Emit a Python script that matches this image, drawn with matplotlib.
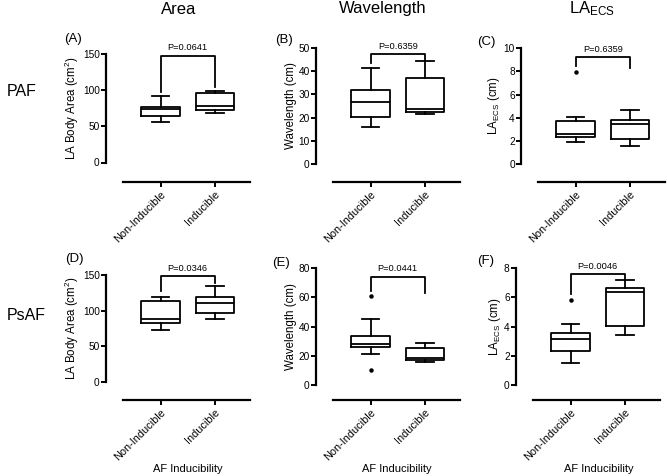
import matplotlib
matplotlib.use("Agg")
from matplotlib import pyplot as plt

plt.rcParams['font.family'] = ['Liberation Sans', 'DejaVu Sans']
plt.rcParams['mathtext.default'] = 'regular'

# box stats: [whisker low, Q1, median, Q3, whisker high]
groups = ["Non-Inducible", "Inducible"]

area_paf_non = [55.8, 64.1, 73.4, 77.0, 91.8]
area_paf_ind = [68.3, 72.4, 78.0, 96.4, 99.2]
wave_paf_non = [16.0, 20.1, 26.8, 31.7, 41.3]
wave_paf_ind = [21.6, 22.4, 23.6, 37.0, 44.3]
laecs_paf_non = [1.93, 2.31, 2.59, 3.72, 4.09]
laecs_paf_ind = [1.58, 2.13, 3.46, 3.80, 4.67]
area_psaf_non = [72.7, 82.1, 88.6, 113.4, 119.0]
area_psaf_ind = [88.6, 96.2, 111.0, 119.0, 134.6]
wave_psaf_non = [21.3, 26.0, 27.9, 33.6, 45.0]
wave_psaf_ind = [16.0, 16.9, 18.5, 25.2, 28.6]
laecs_psaf_non = [1.53, 2.33, 3.18, 3.59, 4.16]
laecs_psaf_ind = [3.43, 4.05, 6.38, 6.65, 7.22]

# outliers
laecs_paf_non_out = [7.95]
wave_psaf_non_out = [60.8, 10.3]
laecs_psaf_non_out = [5.85]

# p values and bracket (height, left leg end, right leg end)
p_values = ["P=0.0641", "P=0.6359", "P=0.6359", "P=0.0346", "P=0.0441", "P=0.0046"]
brackets = [(147.6, 97.8, 104.7), (47.2, 43.4, 44.6), (9.22, 8.47, 8.27),
            (148.6, 127.5, 139.0), (74.3, 64.5, 63.3), (7.59, 6.26, 7.25)]

y_maxes = [150, 50, 10, 150, 80, 8]
y_steps = [50, 10, 2, 50, 20, 2]
y_labels = ["LA Body Area (cm$^2$)", "Wavelength (cm)", "LA$_{ECS}$ (cm)",
            "LA Body Area (cm$^2$)", "Wavelength (cm)", "LA$_{ECS}$ (cm)"]
letters = ["(A)", "(B)", "(C)", "(D)", "(E)", "(F)"]

panels = [
    (area_paf_non, [], area_paf_ind, []),
    (wave_paf_non, [], wave_paf_ind, []),
    (laecs_paf_non, laecs_paf_non_out, laecs_paf_ind, []),
    (area_psaf_non, [], area_psaf_ind, []),
    (wave_psaf_non, wave_psaf_non_out, wave_psaf_ind, []),
    (laecs_psaf_non, laecs_psaf_non_out, laecs_psaf_ind, []),
]

W, H, DPI = 667, 476, 100
fig = plt.figure(figsize=(W / DPI, H / DPI), dpi=DPI)

# pixel layout: spine x, y of zero, y of top, y of x-axis line
layout = [(106, 162.5, 54, 181.5), (316, 164.3, 47.7, 181.5), (521, 164, 48.3, 181.5),
          (106, 381.7, 275, 400), (316, 385, 268.3, 400), (516, 385, 268.3, 400)]
letter_pos = [(73, 39), (284, 40), (486, 42), (74, 259), (281, 263), (486, 261)]
unit = 54.5
xmax = 2.65

for i, (sx, y0, yt, xa) in enumerate(layout):
    ax = fig.add_axes([sx / W, 1 - y0 / H, xmax * unit / W, (y0 - yt) / H])
    non, non_out, ind, ind_out = panels[i]
    stats = []
    for s, out in ((non, non_out), (ind, ind_out)):
        stats.append(dict(whislo=s[0], q1=s[1], med=s[2], q3=s[3], whishi=s[4], fliers=out))
    ax.bxp(stats, positions=[1, 2], widths=0.7, capwidths=0.32, showfliers=True,
           manage_ticks=False,
           boxprops=dict(color='black', lw=1.3),
           medianprops=dict(color='black', lw=1.3),
           whiskerprops=dict(color='black', lw=1.3),
           capprops=dict(color='black', lw=1.3),
           flierprops=dict(marker='o', markerfacecolor='black', markeredgecolor='black',
                           markersize=2.2))
    ax.set_xlim(0, xmax)
    ax.set_ylim(0, y_maxes[i])
    ax.set_yticks(range(0, y_maxes[i] + 1, y_steps[i]))
    ax.set_xticks([1, 2])
    ax.set_xticklabels(groups)
    ax.spines['top'].set_visible(False)
    ax.spines['right'].set_visible(False)
    ax.spines['left'].set_linewidth(1.6)
    ax.spines['bottom'].set_linewidth(1.6)
    ax.spines['left'].set_bounds(0, y_maxes[i])
    ax.spines['bottom'].set_position(('outward', (xa - y0) * 72 / DPI))
    ax.spines['bottom'].set_bounds(0.31, xmax)
    ax.tick_params(width=1.4, length=3.5, color='black', pad=1)
    ax.tick_params(axis='y', labelsize=7.3)
    ax.tick_params(axis='x', labelsize=7.8, labelrotation=45, pad=2)
    plt.setp(ax.get_xticklabels(), ha='right', va='top', rotation_mode='anchor')
    ax.set_ylabel(y_labels[i], fontsize=8.3, labelpad=1)
    ax.patch.set_visible(False)

    by, ll, rl = brackets[i]
    ax.plot([1, 1, 2, 2], [ll, by, by, rl], color='black', lw=1.3, clip_on=False)
    ax.annotate(p_values[i], xy=(1.5, by), xytext=(0, 2.5), textcoords='offset points',
                ha='center', va='bottom', fontsize=6.7, annotation_clip=False)

    lx, ly = letter_pos[i]
    fig.text(lx / W, 1 - ly / H, letters[i], fontsize=9.5, ha='center', va='center')

# column titles
fig.text(179 / W, 1 - 9 / H, "Area", fontsize=12, ha='center', va='center')
fig.text(383 / W, 1 - 9 / H, "Wavelength", fontsize=12, ha='center', va='center')
fig.text(592 / W, 1 - 9 / H, "LA$_{ECS}$", fontsize=12, ha='center', va='center')

# row labels
fig.text(7 / W, 1 - 91 / H, "PAF", fontsize=11.5, ha='left', va='center')
fig.text(7 / W, 1 - 316 / H, "PsAF", fontsize=11.5, ha='left', va='center')

# x labels
for cx in (187.5, 396.5, 598.5):
    fig.text(cx / W, 1 - 469 / H, "AF Inducibility", fontsize=8, ha='center', va='center')

fig.savefig("out.png", dpi=DPI)
